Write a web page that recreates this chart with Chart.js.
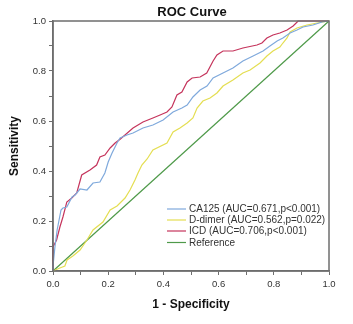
<!DOCTYPE html>
<html>
<head>
<meta charset="utf-8">
<script src="https://cdn.jsdelivr.net/npm/chart.js@4/dist/chart.umd.min.js"></script>
<style>
html,body{margin:0;padding:0;background:#fff;}
canvas{display:block;}
</style>
</head>
<body>
<canvas id="c" width="353" height="324"></canvas>
<script>
// ---- data ----
const seriesNames = ["CA125 (AUC=0.671,p<0.001)", "D-dimer (AUC=0.562,p=0.022)", "ICD (AUC=0.706,p<0.001)", "Reference"];

const ca125X = [0,0,0.007,0.015,0.029,0.036,0.05,0.069,0.08,0.098,0.123,0.145,0.17,0.188,0.2,0.214,0.232,0.243,0.268,0.29,0.326,0.362,0.399,0.435,0.467,0.486,0.507,0.533,0.558,0.58,0.616,0.652,0.688,0.725,0.761,0.786,0.812,0.833,0.859,0.884,0.906,0.942,0.975,1];
const ca125Y = [0,0.02,0.096,0.164,0.244,0.252,0.256,0.296,0.304,0.328,0.324,0.352,0.356,0.392,0.436,0.472,0.512,0.532,0.544,0.552,0.572,0.584,0.604,0.636,0.652,0.664,0.696,0.724,0.74,0.772,0.792,0.812,0.84,0.86,0.88,0.9,0.92,0.932,0.952,0.964,0.976,0.984,0.996,1];

const ddimerX = [0,0.025,0.043,0.051,0.072,0.098,0.123,0.145,0.181,0.207,0.232,0.261,0.279,0.297,0.308,0.322,0.341,0.362,0.413,0.435,0.46,0.486,0.507,0.522,0.543,0.569,0.594,0.616,0.652,0.688,0.714,0.75,0.775,0.797,0.822,0.833,0.848,0.859,0.884,0.92,0.957,0.978,1];
const ddimerY = [0,0.012,0.02,0.044,0.06,0.084,0.124,0.164,0.196,0.244,0.26,0.292,0.324,0.364,0.392,0.424,0.448,0.484,0.512,0.556,0.572,0.592,0.612,0.652,0.68,0.692,0.712,0.74,0.764,0.792,0.804,0.832,0.86,0.88,0.896,0.912,0.932,0.956,0.972,0.984,0.992,0.996,1];

const icdX = [0,0,0.013,0.025,0.036,0.05,0.068,0.086,0.104,0.134,0.158,0.17,0.188,0.207,0.225,0.243,0.29,0.326,0.362,0.388,0.413,0.431,0.449,0.467,0.486,0.504,0.533,0.557,0.58,0.594,0.616,0.652,0.688,0.739,0.757,0.775,0.797,0.822,0.848,0.87,0.888,1];
const icdY = [0,0.096,0.124,0.176,0.216,0.276,0.292,0.312,0.384,0.404,0.424,0.456,0.464,0.492,0.512,0.527,0.572,0.596,0.612,0.624,0.636,0.656,0.704,0.716,0.756,0.772,0.776,0.792,0.84,0.864,0.88,0.88,0.892,0.904,0.912,0.932,0.944,0.952,0.964,0.98,1,1];

const refX = [0,1];
const refY = [0,1];

const axisTicks = [0,0.1,0.2,0.3,0.4,0.5,0.6,0.7,0.8,0.9,1.0];
const tickLabels = ["0.0","","0.2","","0.4","","0.6","","0.8","","1.0"];

const colors = ["#7fa9dc","#e4de52","#c5345c","#4f9a4a"];

function pts(xs, ys){ return xs.map((x,i)=>({x:x, y:ys[i]})); }

const FONT = "'Liberation Sans', Arial, sans-serif";

const framePlugin = {
  id: 'frame',
  afterDatasetsDraw(chart){
    const {ctx, chartArea:a} = chart;
    ctx.save();
    ctx.strokeStyle = '#6e6e6e';
    ctx.lineWidth = 1.5;
    ctx.strokeRect(a.left, a.top, a.right - a.left, a.bottom - a.top);
    ctx.restore();
  }
};

const titlePlugin = {
  id: 'centerTitle',
  afterDraw(chart){
    const {ctx, chartArea:a} = chart;
    ctx.save();
    ctx.font = "bold 13px " + FONT;
    ctx.fillStyle = '#111';
    ctx.textAlign = 'center';
    ctx.textBaseline = 'middle';
    ctx.fillText("ROC Curve", (a.left + a.right)/2 + 1, 12.5);
    ctx.restore();
  }
};

const legendPlugin = {
  id: 'insideLegend',
  afterDraw(chart){
    const {ctx, chartArea:a} = chart;
    const ds = chart.data.datasets;
    const rowY = [209, 220, 231, 242.5];
    const x0 = a.left + 114, x1 = a.left + 133;
    ctx.save();
    ctx.font = "10px " + FONT;
    ctx.textBaseline = 'middle';
    ctx.textAlign = 'left';
    ds.forEach((d, i) => {
      ctx.strokeStyle = d.borderColor;
      ctx.lineWidth = 1.2;
      ctx.beginPath();
      ctx.moveTo(x0, rowY[i]);
      ctx.lineTo(x1, rowY[i]);
      ctx.stroke();
      ctx.fillStyle = '#333';
      ctx.fillText(d.label, x1 + 3, rowY[i] + 0.5);
    });
    ctx.restore();
  }
};

function makeDs(label, xs, ys, color){
  return {label, data: pts(xs, ys), borderColor: color, backgroundColor: color,
    showLine: true, pointRadius: 0, borderWidth: 1.2, tension: 0, fill: false, clip: 2};
}

new Chart(document.getElementById('c'), {
  type: 'scatter',
  data: {
    datasets: [
      makeDs(seriesNames[0], ca125X, ca125Y, colors[0]),
      makeDs(seriesNames[1], ddimerX, ddimerY, colors[1]),
      makeDs(seriesNames[2], icdX, icdY, colors[2]),
      makeDs(seriesNames[3], refX, refY, colors[3])
    ]
  },
  options: {
    responsive: false,
    animation: false,
    devicePixelRatio: 1,
    layout: { padding: { top: 21, right: 24, left: 0, bottom: 0 } },
    plugins: { legend: { display: false }, title: { display: false }, tooltip: { enabled: false } },
    scales: {
      x: {
        type: 'linear', min: 0, max: 1,
        afterFit(s){ s.height = 53; },
        afterBuildTicks(s){ s.ticks = axisTicks.map(v => ({value: v})); },
        ticks: { autoSkip: false, maxRotation: 0, padding: 4, color: '#333',
          font: { family: FONT, size: 9.5 },
          callback(v, i){ return tickLabels[i]; } },
        grid: { drawOnChartArea: false, drawTicks: true, tickLength: 4, color: '#6e6e6e', lineWidth: 1 },
        border: { display: true, color: '#6e6e6e', width: 1.5 },
        title: { display: true, text: '1 - Specificity', color: '#111',
          font: { family: FONT, size: 12, weight: 'bold' }, padding: { top: 0, bottom: 12 } }
      },
      y: {
        type: 'linear', min: 0, max: 1,
        afterFit(s){ s.width = 53; },
        afterBuildTicks(s){ s.ticks = axisTicks.map(v => ({value: v})); },
        ticks: { autoSkip: false, padding: 3, color: '#333',
          font: { family: FONT, size: 9.5 },
          callback(v, i){ return tickLabels[i]; } },
        grid: { drawOnChartArea: false, drawTicks: true, tickLength: 4, color: '#6e6e6e', lineWidth: 1 },
        border: { display: true, color: '#6e6e6e', width: 1.5 },
        title: { display: true, text: 'Sensitivity', color: '#111',
          font: { family: FONT, size: 12, weight: 'bold' }, padding: { top: 7, bottom: 0 } }
      }
    }
  },
  plugins: [framePlugin, titlePlugin, legendPlugin]
});
</script>
</body>
</html>
